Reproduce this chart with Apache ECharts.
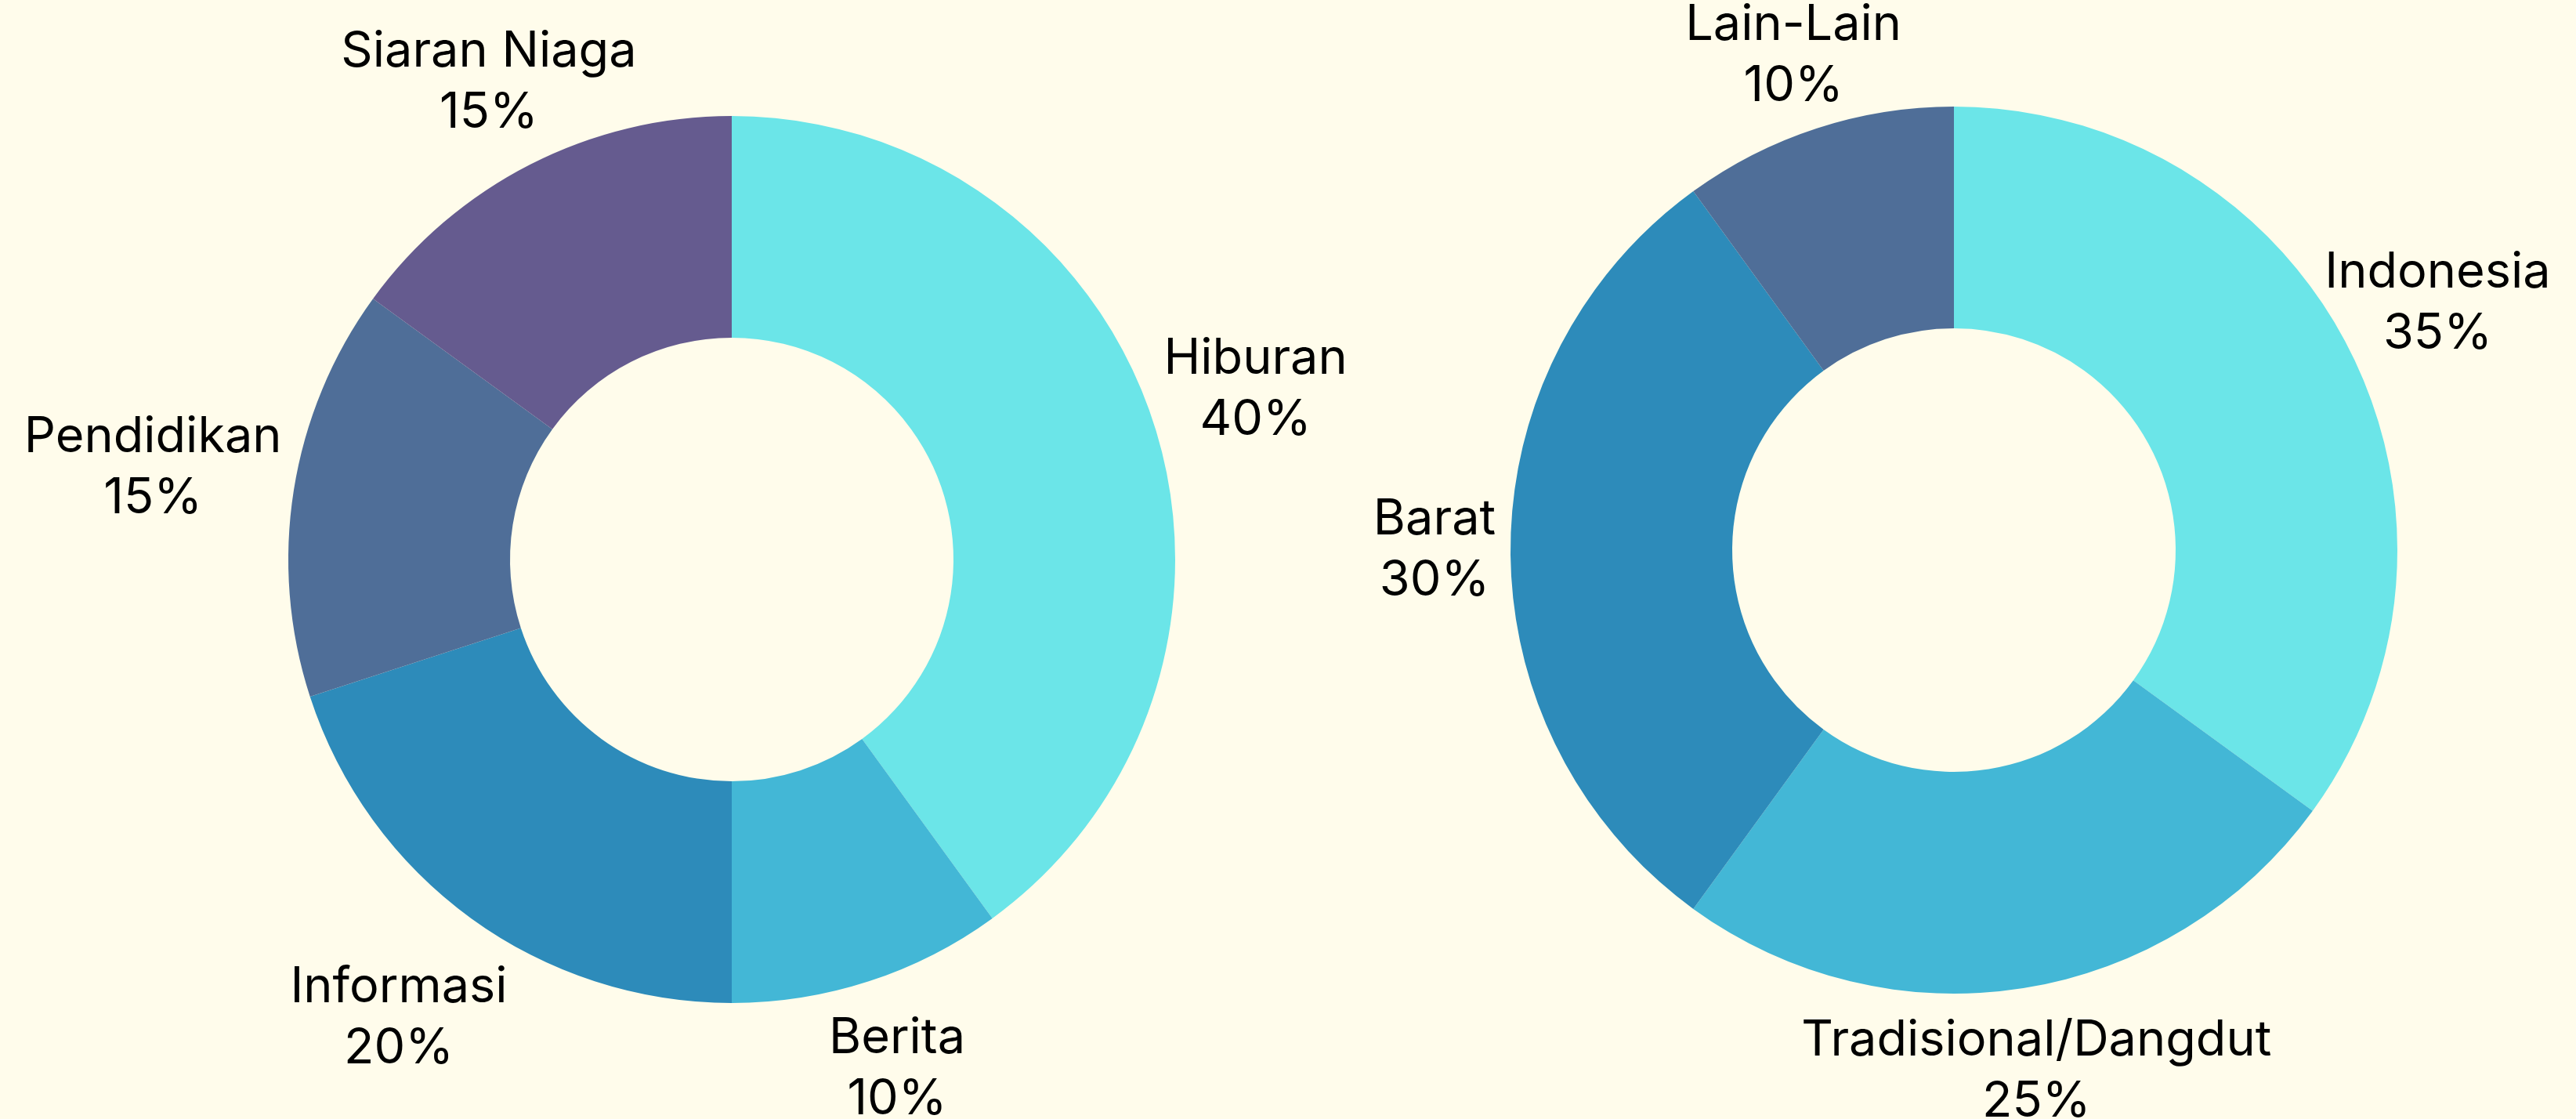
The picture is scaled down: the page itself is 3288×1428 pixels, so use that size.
<!DOCTYPE html>
<html>
<head>
<meta charset="utf-8">
<script src="https://cdn.jsdelivr.net/npm/echarts@6/dist/echarts.min.js"></script>
<style>
html,body{margin:0;padding:0;background:#FFFCEB;}
#chart{width:3288px;height:1428px;}
</style>
</head>
<body>
<div id="chart"></div>
<script>
// jenis program (kiri)
var programNames = ['Hiburan', 'Berita', 'Informasi', 'Pendidikan', 'Siaran Niaga'];
var programValues = [40, 10, 20, 15, 15];
// jenis musik (kanan)
var musicNames = ['Indonesia', 'Tradisional/Dangdut', 'Barat', 'Lain-Lain'];
var musicValues = [35, 25, 30, 10];

var programColors = ['#6BE5E8', '#43B7D6', '#2D8BBA', '#4F6E98', '#655B8F'];
var musicColors = ['#6BE5E8', '#43B7D6', '#2D8BBA', '#4F6E98'];

// geser label sedikit ke luar/dalam (px, searah irisan)
var programNudge = [0, -20, 20, 45, -20];
var musicNudge = [20, 0, -10, -10];

var FONT = 'Inter, "Noto Sans", sans-serif';

function ringData(names, values, colors){
	var out = [];
	for(var i=0;i<names.length;i++){
		out.push({name:names[i], value:values[i], itemStyle:{color:colors[i]}});
	}
	return out;
}

// data untuk label: offset dihitung dari sudut tengah irisan
function labelData(names, values, nudge){
	var total = 0, acc = 0, out = [];
	for(var i=0;i<values.length;i++) total += values[i];
	for(var k=0;k<values.length;k++){
		var mid = (acc + values[k]/2) / total * Math.PI * 2;
		acc += values[k];
		out.push({
			name:names[k], value:values[k],
			label:{offset:[nudge[k]*Math.sin(mid), -nudge[k]*Math.cos(mid)]}
		});
	}
	return out;
}

function donut(center, names, values, colors){
	return {
		type:'pie', center:center, radius:[283, 566], startAngle:90,
		silent:true, label:{show:false}, labelLine:{show:false},
		data:ringData(names, values, colors)
	};
}

function labels(center, r, names, values, nudge){
	return {
		type:'pie', center:center, radius:[r-1, r+1], startAngle:90,
		silent:true, itemStyle:{color:'rgba(0,0,0,0)'},
		labelLine:{show:false},
		label:{
			show:true, position:'inside', color:'#000', fontFamily:FONT,
			fontSize:63, lineHeight:78, align:'center',
			formatter:function(p){ return p.name + '\n' + p.value + '%'; }
		},
		data:labelData(names, values, nudge)
	};
}

var myChart = echarts.init(document.getElementById('chart'));
var option = {
	backgroundColor:'#FFFCEB',
	animation:false,
	series:[
		donut([934, 714], programNames, programValues, programColors),
		labels([934, 714], 700, programNames, programValues, programNudge),
		donut([2494, 702], musicNames, musicValues, musicColors),
		labels([2494, 702], 670, musicNames, musicValues, musicNudge)
	]
};
myChart.setOption(option);
</script>
</body>
</html>
